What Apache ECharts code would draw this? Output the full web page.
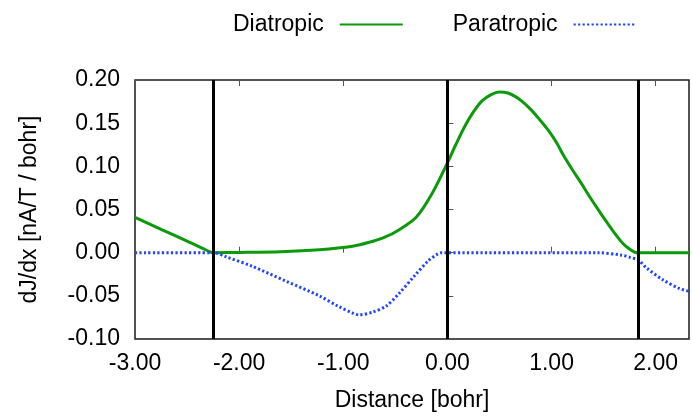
<!DOCTYPE html>
<html>
<head>
<meta charset="utf-8">
<script src="https://cdn.jsdelivr.net/npm/echarts@6/dist/echarts.min.js"></script>
<style>
  html, body { margin: 0; padding: 0; background: #fff; }
  #chart { width: 692px; height: 417px; }
</style>
</head>
<body>
<div id="chart"></div>
<script>
// Current density derivative along the scan line
const diaX = [-3.00, -2.75, -2.50, -2.35, -2.28, -2.25, -2.00, -1.60, -1.23, -0.91, -0.75, -0.60, -0.47, -0.30, -0.15, 0.00, 0.08, 0.17, 0.25, 0.33, 0.42, 0.50, 0.58, 0.65, 0.72, 0.80, 0.88, 0.97, 1.05, 1.12, 1.20, 1.28, 1.36, 1.44, 1.52, 1.60, 1.69, 1.755, 1.80, 1.835, 2.32];
const diaY = [0.041, 0.027, 0.0135, 0.005, 0.001, 0.000, 0.0003, 0.0012, 0.0035, 0.0075, 0.012, 0.018, 0.026, 0.041, 0.068, 0.104, 0.125, 0.147, 0.163, 0.1755, 0.183, 0.186, 0.185, 0.181, 0.175, 0.166, 0.155, 0.1416, 0.127, 0.1116, 0.096, 0.0814, 0.066, 0.0513, 0.037, 0.0235, 0.010, 0.0036, 0.0005, 0.000, 0.000];

const paraX = [-3.00, -2.25, -2.12, -1.87, -1.55, -1.23, -1.05, -0.91, -0.85, -0.72, -0.59, -0.47, -0.31, -0.18, -0.10, -0.06, 1.44, 1.68, 1.755, 1.835, 1.91, 2.07, 2.23, 2.32];
const paraY = [0.000, 0.000, -0.005, -0.016, -0.033, -0.050, -0.062, -0.070, -0.072, -0.069, -0.062, -0.048, -0.026, -0.009, -0.002, 0.000, 0.000, -0.003, -0.0055, -0.0087, -0.0175, -0.0315, -0.0416, -0.0447];

// Atom / bond positions marked with vertical lines
const markerX = [-2.25, 0.00, 1.835];

const xRange = [-3, 2.32];
const yRange = [-0.10, 0.20];

const FONT = "'Liberation Sans', Arial, sans-serif";
const pairs = (xs, ys) => xs.map((x, i) => [x, ys[i]]);

const chart = echarts.init(document.getElementById('chart'), null, { renderer: 'canvas' });

chart.setOption({
  animation: false,
  backgroundColor: '#fff',
  textStyle: { fontFamily: FONT },
  grid: {
    left: 135, top: 80, right: 0, bottom: 71,
    show: true, borderColor: '#1a1a1a', borderWidth: 1.5
  },
  legend: {
    left: 228, top: 8,
    align: 'right',
    itemWidth: 63, itemHeight: 12, itemGap: 49,
    itemStyle: { opacity: 0 },
    textStyle: { fontSize: 23, color: '#000', fontFamily: FONT, padding: [0, 11, 0, 0] },
    data: ['Diatropic', 'Paratropic']
  },
  xAxis: [{
    type: 'value', min: xRange[0], max: xRange[1], interval: 1,
    position: 'bottom',
    name: 'Distance [bohr]', nameLocation: 'middle', nameGap: 50,
    nameTextStyle: { fontSize: 23, color: '#000', fontFamily: FONT },
    axisLine: { show: false },
    axisTick: { show: true, inside: true, length: 6, lineStyle: { color: '#555', width: 1 } },
    axisLabel: {
      fontSize: 23, color: '#000', fontFamily: FONT, margin: 13,
      formatter: v => Math.abs(v - Math.round(v)) < 1e-6 ? v.toFixed(2) : ''
    },
    splitLine: { show: false }
  }, {
    type: 'value', min: xRange[0], max: xRange[1], interval: 1,
    position: 'top',
    axisLine: { show: false },
    axisTick: { show: true, inside: true, length: 6, lineStyle: { color: '#555', width: 1 } },
    axisLabel: { show: false },
    splitLine: { show: false }
  }],
  yAxis: {
    type: 'value', min: yRange[0], max: yRange[1], interval: 0.05,
    name: 'dJ/dx [nA/T / bohr]', nameLocation: 'middle', nameGap: 94,
    nameTextStyle: { fontSize: 23, color: '#000', fontFamily: FONT },
    axisLine: { show: false },
    axisTick: { show: true, inside: true, length: 6, lineStyle: { color: '#555', width: 1 } },
    axisLabel: {
      fontSize: 23, color: '#000', fontFamily: FONT, margin: 15,
      formatter: v => v.toFixed(2)
    },
    splitLine: { show: false }
  },
  series: [{
    name: 'Diatropic', type: 'line',
    data: pairs(diaX, diaY),
    symbol: 'none', smooth: 0.3,
    lineStyle: { color: '#0a9a0a', width: 3 },
    itemStyle: { color: '#0a9a0a' },
    z: 3
  }, {
    name: 'Paratropic', type: 'line',
    data: pairs(paraX, paraY),
    symbol: 'none', smooth: 0.3,
    lineStyle: { color: '#1f44ff', width: 3, type: [2.2, 2.3] },
    itemStyle: { color: '#1f44ff' },
    z: 4,
    markLine: {
      silent: true, symbol: 'none',
      label: { show: false },
      lineStyle: { color: '#000', width: 3, type: 'solid' },
      data: markerX.map(x => ({ xAxis: x }))
    }
  }]
});
</script>
</body>
</html>
